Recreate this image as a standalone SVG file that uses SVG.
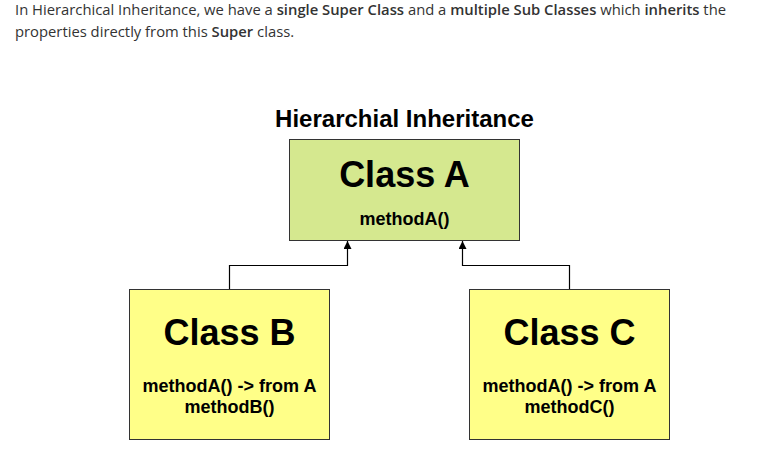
<svg xmlns="http://www.w3.org/2000/svg" width="768" height="451" viewBox="0 0 768 451">
<style>
.intro{font-family:"Open Sans","Liberation Sans",sans-serif;font-size:14.8px;fill:#333}
.b{font-weight:600}
.t{font-family:"Liberation Sans",Arial,sans-serif;font-weight:bold;fill:#000;text-anchor:middle}
.box{stroke:#333;stroke-width:1}
.a{fill:#d5e88f}
.y{fill:#ffff88}
.conn{fill:none;stroke:#000;stroke-width:1.2}
</style>
<defs>
<marker id="arr" viewBox="0 0 10 10" refX="10" refY="5" markerWidth="8" markerHeight="8" orient="auto" markerUnits="userSpaceOnUse">
<path d="M0,0 L10,5 L0,10 z" fill="#000"/>
</marker>
</defs>
<rect width="768" height="451" fill="#fff"/>
<text class="intro" x="15" y="14.8">In Hierarchical Inheritance, we have a <tspan class="b">single Super Class</tspan> and a <tspan class="b">multiple Sub Classes</tspan> which <tspan class="b">inherits</tspan> the</text>
<text class="intro" x="15" y="37">properties directly from this <tspan class="b">Super</tspan> class.</text>
<text class="t" x="404.5" y="127" font-size="24">Hierarchial Inheritance</text>
<g id="classA">
<rect class="box a" x="289.5" y="139.5" width="230" height="101"/>
<text class="t" x="404.5" y="187" font-size="36">Class A</text>
<text class="t" x="404.5" y="225" font-size="18">methodA()</text>
</g>
<g id="classB">
<rect class="box y" x="129.5" y="289.5" width="200" height="150"/>
<text class="t" x="229.5" y="345" font-size="36">Class B</text>
<text class="t" x="229.5" y="391.5" font-size="18">methodA() -&gt; from A</text>
<text class="t" x="229.5" y="412.5" font-size="18">methodB()</text>
</g>
<g id="classC">
<rect class="box y" x="469.5" y="289.5" width="200" height="150"/>
<text class="t" x="569.5" y="345" font-size="36">Class C</text>
<text class="t" x="569.5" y="391.5" font-size="18">methodA() -&gt; from A</text>
<text class="t" x="569.5" y="412.5" font-size="18">methodC()</text>
</g>
<g id="connectors">
<path class="conn" d="M229.5,289 V265.5 H347.5 V241" marker-end="url(#arr)"/>
<path class="conn" d="M569.5,289 V265.5 H462.5 V241" marker-end="url(#arr)"/>
</g>
</svg>
